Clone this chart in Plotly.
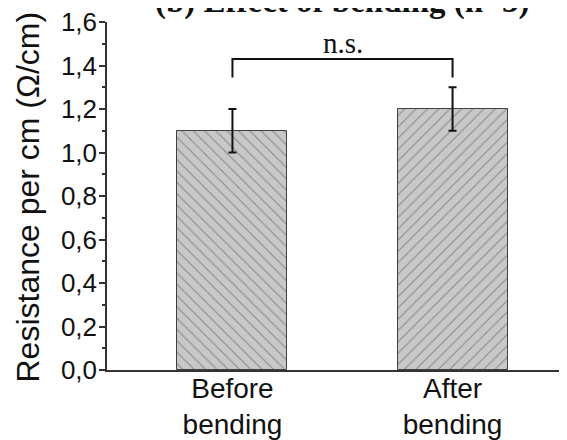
import plotly.graph_objects as go

categories = ["Before<br>bending", "After<br>bending"]
values = [1.1, 1.2]
errors = [0.1, 0.1]
patterns = ["\\", "/"]
title_text = "(b) Effect of bending (n=3)"
y_title = "Resistance per cm (Ω/cm)"
sig_label = "n.s."
bracket_y = 1.43
bracket_drop = 1.345

x_pos = [0, 1]

fig = go.Figure()
for i in range(len(categories)):
    fig.add_trace(go.Bar(
        x=[x_pos[i]], y=[values[i]], width=0.5,
        marker=dict(color="#c8c8c8", line=dict(color="#404040", width=1),
                    pattern=dict(shape=patterns[i], fgcolor="#4a4a4a", size=8, solidity=0.14)),
        error_y=dict(type="data", array=[errors[i]], color="#111111", thickness=2, width=4),
        showlegend=False,
    ))

# significance bracket
fig.add_trace(go.Scatter(
    x=[x_pos[0], x_pos[0], x_pos[1], x_pos[1]],
    y=[bracket_drop, bracket_y, bracket_y, bracket_drop],
    mode="lines", line=dict(color="#111111", width=2), showlegend=False, hoverinfo="skip"))

fig.add_annotation(x=(x_pos[0] + x_pos[1]) / 2, y=bracket_y, yanchor="bottom", yshift=-2,
                   text=sig_label, showarrow=False,
                   font=dict(family="Liberation Serif", size=29, color="#111111"))

fig.add_annotation(xref="paper", yref="paper", x=0.51, y=1, yanchor="middle", yshift=21,
                   text="<b>" + title_text + "</b>", showarrow=False,
                   font=dict(family="Liberation Serif", size=33, color="#111111"))

# y-axis title placed as rotated annotation
fig.add_annotation(xref="paper", yref="paper", x=-0.1717, y=0.4957,
                   xanchor="center", yanchor="middle", textangle=-90,
                   text=y_title, showarrow=False,
                   font=dict(family="Liberation Sans", size=32, color="#111111"))

# page body has an 8px margin; figure is sized/offset to compensate
fig.update_layout(
    width=559, height=432,
    margin=dict(l=99, r=0, t=14, b=70),
    plot_bgcolor="white", paper_bgcolor="white",
    separators=",.",
    bargap=0,
)
fig.update_xaxes(
    range=[-0.57, 1.52], tickvals=x_pos, ticktext=categories,
    showline=True, linecolor="#333333", linewidth=2, ticks="",
    showgrid=False, zeroline=False, ticklabelstandoff=-8,
    tickfont=dict(family="Liberation Sans", size=28, color="#111111"),
)
fig.update_yaxes(
    range=[0, 1.6001], tick0=0, dtick=0.2, tickformat=".1f",
    showline=True, linecolor="#333333", linewidth=1.5,
    ticks="outside", ticklen=6, tickwidth=1.5, tickcolor="#333333",
    minor=dict(ticks="outside", ticklen=3, dtick=0.1, tickcolor="#333333", tickwidth=1.5),
    showgrid=False, zeroline=False, ticklabelstandoff=-3, ticklabeloverflow="allow",
    tickfont=dict(family="Liberation Sans", size=26, color="#111111"),
)

fig.write_html("out.html")
